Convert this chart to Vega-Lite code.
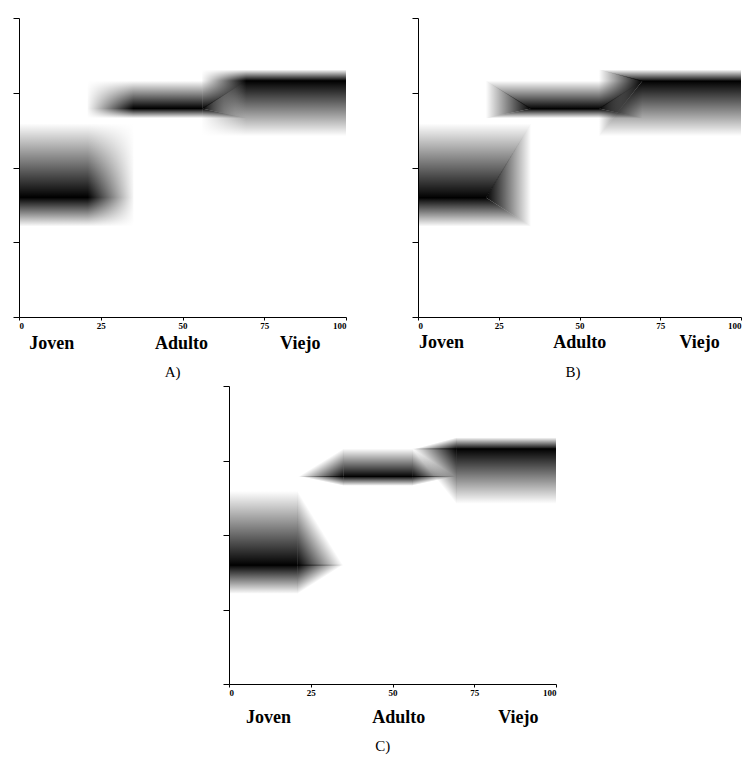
{
  "$schema": "https://vega.github.io/schema/vega-lite/v6.json",
  "background": "white",
  "padding": {"left": 12, "top": 17, "right": 0, "bottom": 0},
  "config": {
    "view": {"stroke": null},
    "axis": {"grid": false, "domainColor": "#000", "tickColor": "#000", "domainWidth": 1, "tickWidth": 1, "labelFont": "Liberation Serif", "labelFontSize": 9, "labelColor": "#000", "labelFontWeight": "bold"}
  },
  "datasets": {
    "rects": [
      {"panel": "A", "kind": "bandV", "x": 56, "x2": 100, "y": 2.42, "y2": 3.31},
      {"panel": "A", "kind": "wL", "x": 55.6, "x2": 69.5, "y": 2.42, "y2": 3.31},
      {"panel": "A", "kind": "bandJ", "x": 0, "x2": 35, "y": 1.21, "y2": 2.59},
      {"panel": "A", "kind": "wR", "x": 21, "x2": 35.4, "y": 1.21, "y2": 2.59},
      {"panel": "A", "kind": "bandA", "x": 21, "x2": 56, "y": 2.66, "y2": 3.16},
      {"panel": "A", "kind": "wL", "x": 20.6, "x2": 35, "y": 2.66, "y2": 3.16}
    ],
    "areas": [
      {"panel": "A", "piece": "A_up", "kind": "down", "x": 56, "y": 2.78, "y2": 3.16},
      {"panel": "A", "piece": "A_up", "kind": "down", "x": 69.5, "y": 3.16, "y2": 3.16},
      {"panel": "A", "piece": "A_lo", "kind": "up", "x": 56, "y": 2.66, "y2": 2.79},
      {"panel": "A", "piece": "A_lo", "kind": "up", "x": 69.5, "y": 2.66, "y2": 2.66},
      {"panel": "A", "piece": "A_hR", "kind": "hRsoft", "x": 56, "y": 2.79, "y2": 2.79},
      {"panel": "A", "piece": "A_hR", "kind": "hRsoft", "x": 69.5, "y": 2.66, "y2": 3.16},

      {"panel": "B", "piece": "J_up", "kind": "down", "x": 0, "y": 1.59, "y2": 2.59},
      {"panel": "B", "piece": "J_up", "kind": "down", "x": 21, "y": 1.59, "y2": 2.59},
      {"panel": "B", "piece": "J_up", "kind": "down", "x": 35, "y": 2.59, "y2": 2.59},
      {"panel": "B", "piece": "J_lo", "kind": "up", "x": 0, "y": 1.21, "y2": 1.6},
      {"panel": "B", "piece": "J_lo", "kind": "up", "x": 21, "y": 1.21, "y2": 1.6},
      {"panel": "B", "piece": "J_lo", "kind": "up", "x": 35, "y": 1.21, "y2": 1.21},
      {"panel": "B", "piece": "J_hR", "kind": "hR", "x": 21, "y": 1.6, "y2": 1.6},
      {"panel": "B", "piece": "J_hR", "kind": "hR", "x": 35, "y": 1.21, "y2": 2.59},
      {"panel": "B", "piece": "A_up", "kind": "down", "x": 21, "y": 3.16, "y2": 3.16},
      {"panel": "B", "piece": "A_up", "kind": "down", "x": 35, "y": 2.78, "y2": 3.16},
      {"panel": "B", "piece": "A_up", "kind": "down", "x": 56, "y": 2.78, "y2": 3.16},
      {"panel": "B", "piece": "A_up", "kind": "down", "x": 69.5, "y": 3.16, "y2": 3.16},
      {"panel": "B", "piece": "A_lo", "kind": "up", "x": 21, "y": 2.66, "y2": 2.66},
      {"panel": "B", "piece": "A_lo", "kind": "up", "x": 35, "y": 2.66, "y2": 2.79},
      {"panel": "B", "piece": "A_lo", "kind": "up", "x": 56, "y": 2.66, "y2": 2.79},
      {"panel": "B", "piece": "A_lo", "kind": "up", "x": 69.5, "y": 2.66, "y2": 2.66},
      {"panel": "B", "piece": "A_hL", "kind": "hL", "x": 21, "y": 2.66, "y2": 3.16},
      {"panel": "B", "piece": "A_hL", "kind": "hL", "x": 35, "y": 2.79, "y2": 2.79},
      {"panel": "B", "piece": "A_hR", "kind": "hR", "x": 56, "y": 2.79, "y2": 2.79},
      {"panel": "B", "piece": "A_hR", "kind": "hR", "x": 69.5, "y": 2.66, "y2": 3.16},
      {"panel": "B", "piece": "V_up", "kind": "down", "x": 56, "y": 3.31, "y2": 3.31},
      {"panel": "B", "piece": "V_up", "kind": "down", "x": 69.5, "y": 3.15, "y2": 3.31},
      {"panel": "B", "piece": "V_up", "kind": "down", "x": 100, "y": 3.15, "y2": 3.31},
      {"panel": "B", "piece": "V_lo", "kind": "up", "x": 56, "y": 2.42, "y2": 2.42},
      {"panel": "B", "piece": "V_lo", "kind": "up", "x": 69.5, "y": 2.42, "y2": 3.16},
      {"panel": "B", "piece": "V_lo", "kind": "up", "x": 100, "y": 2.42, "y2": 3.16},
      {"panel": "B", "piece": "V_hL", "kind": "hL", "x": 56, "y": 2.42, "y2": 3.31},
      {"panel": "B", "piece": "V_hL", "kind": "hL", "x": 69.5, "y": 3.16, "y2": 3.16},

      {"panel": "C", "piece": "J_cu", "kind": "down", "x": 0, "y": 1.59, "y2": 2.59},
      {"panel": "C", "piece": "J_cu", "kind": "down", "x": 21.05, "y": 1.59, "y2": 2.59},
      {"panel": "C", "piece": "J_cl", "kind": "up", "x": 0, "y": 1.21, "y2": 1.6},
      {"panel": "C", "piece": "J_cl", "kind": "up", "x": 21.05, "y": 1.21, "y2": 1.6},
      {"panel": "C", "piece": "J_ru", "kind": "lkRU", "x": 21, "y": 1.59, "y2": 2.59},
      {"panel": "C", "piece": "J_ru", "kind": "lkRU", "x": 35, "y": 1.59, "y2": 1.59},
      {"panel": "C", "piece": "J_rl", "kind": "lkRL", "x": 21, "y": 1.21, "y2": 1.6},
      {"panel": "C", "piece": "J_rl", "kind": "lkRL", "x": 35, "y": 1.6, "y2": 1.6},
      {"panel": "C", "piece": "A_cu", "kind": "down", "x": 34.95, "y": 2.78, "y2": 3.16},
      {"panel": "C", "piece": "A_cu", "kind": "down", "x": 56.05, "y": 2.78, "y2": 3.16},
      {"panel": "C", "piece": "A_cl", "kind": "up", "x": 34.95, "y": 2.66, "y2": 2.79},
      {"panel": "C", "piece": "A_cl", "kind": "up", "x": 56.05, "y": 2.66, "y2": 2.79},
      {"panel": "C", "piece": "A_lu", "kind": "lkLU", "x": 21, "y": 2.78, "y2": 2.78},
      {"panel": "C", "piece": "A_lu", "kind": "lkLU", "x": 35, "y": 2.78, "y2": 3.16},
      {"panel": "C", "piece": "A_ll", "kind": "lkLL", "x": 21, "y": 2.79, "y2": 2.79},
      {"panel": "C", "piece": "A_ll", "kind": "lkLL", "x": 35, "y": 2.66, "y2": 2.79},
      {"panel": "C", "piece": "A_ru", "kind": "lkRU", "x": 56, "y": 2.78, "y2": 3.16},
      {"panel": "C", "piece": "A_ru", "kind": "lkRU", "x": 69.5, "y": 2.78, "y2": 2.78},
      {"panel": "C", "piece": "A_rl", "kind": "lkRL", "x": 56, "y": 2.66, "y2": 2.79},
      {"panel": "C", "piece": "A_rl", "kind": "lkRL", "x": 69.5, "y": 2.79, "y2": 2.79},
      {"panel": "C", "piece": "V_cu", "kind": "down", "x": 69.45, "y": 3.15, "y2": 3.31},
      {"panel": "C", "piece": "V_cu", "kind": "down", "x": 100, "y": 3.15, "y2": 3.31},
      {"panel": "C", "piece": "V_cl", "kind": "up", "x": 69.45, "y": 2.42, "y2": 3.16},
      {"panel": "C", "piece": "V_cl", "kind": "up", "x": 100, "y": 2.42, "y2": 3.16},
      {"panel": "C", "piece": "V_lu", "kind": "lkLU", "x": 56, "y": 3.15, "y2": 3.15},
      {"panel": "C", "piece": "V_lu", "kind": "lkLU", "x": 69.5, "y": 3.15, "y2": 3.31},
      {"panel": "C", "piece": "V_ll", "kind": "lkLL", "x": 56, "y": 3.16, "y2": 3.16},
      {"panel": "C", "piece": "V_ll", "kind": "lkLL", "x": 69.5, "y": 2.42, "y2": 3.16}
    ],
    "labels": [
      {"panel": "A", "kind": "set", "x": 10, "y": -0.43, "t": "Joven"},
      {"panel": "A", "kind": "set", "x": 49.7, "y": -0.43, "t": "Adulto"},
      {"panel": "A", "kind": "set", "x": 86, "y": -0.43, "t": "Viejo"},
      {"panel": "A", "kind": "cap", "x": 47, "y": -0.8, "t": "A)"},
      {"panel": "B", "kind": "set", "x": 7.3, "y": -0.42, "t": "Joven"},
      {"panel": "B", "kind": "set", "x": 50.1, "y": -0.42, "t": "Adulto"},
      {"panel": "B", "kind": "set", "x": 87.2, "y": -0.42, "t": "Viejo"},
      {"panel": "B", "kind": "cap", "x": 48, "y": -0.8, "t": "B)"},
      {"panel": "C", "kind": "set", "x": 12.1, "y": -0.525, "t": "Joven"},
      {"panel": "C", "kind": "set", "x": 51.9, "y": -0.525, "t": "Adulto"},
      {"panel": "C", "kind": "set", "x": 88.5, "y": -0.525, "t": "Viejo"},
      {"panel": "C", "kind": "cap", "x": 47, "y": -0.9, "t": "C)"}
    ]
  },
  "spacing": 5,
  "vconcat": [
    {
      "spacing": 72,
      "bounds": "flush",
      "hconcat": [
        {
          "width": 327,
          "height": 299,
          "layer": [
            {
              "data": {"name": "rects"},
              "transform": [{"filter": "datum.panel === 'A'"}],
              "mark": {"type": "rect", "opacity": 1, "strokeWidth": 0},
              "encoding": {
                "x": {"field": "x", "type": "quantitative", "scale": {"domain": [0, 100], "nice": false}, "axis": {"values": [0, 25, 50, 75, 100], "tickSize": 3, "labelPadding": 1, "title": null}},
                "y": {"field": "y", "type": "quantitative", "scale": {"domain": [0, 4], "nice": false, "zero": false}, "axis": {"values": [0, 1, 2, 3, 4], "labels": false, "tickSize": 6, "title": null}},
                "x2": {"field": "x2"},
                "y2": {"field": "y2"},
                "fill": {
                  "condition": [
                    {"test": "datum.kind === 'bandV'", "value": {"gradient": "linear", "x1": 0, "y1": 0, "x2": 0, "y2": 1, "stops": [{"offset": 0, "color": "rgba(0,0,0,0)"}, {"offset": 0.169, "color": "#000"}, {"offset": 1, "color": "rgba(0,0,0,0)"}]}},
                    {"test": "datum.kind === 'bandJ'", "value": {"gradient": "linear", "x1": 0, "y1": 0, "x2": 0, "y2": 1, "stops": [{"offset": 0, "color": "rgba(0,0,0,0)"}, {"offset": 0.717, "color": "#000"}, {"offset": 1, "color": "rgba(0,0,0,0)"}]}},
                    {"test": "datum.kind === 'bandA'", "value": {"gradient": "linear", "x1": 0, "y1": 0, "x2": 0, "y2": 1, "stops": [{"offset": 0, "color": "rgba(0,0,0,0)"}, {"offset": 0.74, "color": "#000"}, {"offset": 1, "color": "rgba(0,0,0,0)"}]}},
                    {"test": "datum.kind === 'wL'", "value": {"gradient": "linear", "x1": 0, "y1": 0, "x2": 1, "y2": 0, "stops": [{"offset": 0, "color": "#ffffff"}, {"offset": 1, "color": "rgba(255,255,255,0)"}]}}
                  ],
                  "value": {"gradient": "linear", "x1": 0, "y1": 0, "x2": 1, "y2": 0, "stops": [{"offset": 0, "color": "rgba(255,255,255,0)"}, {"offset": 1, "color": "#ffffff"}]}
                }
              }
            },
            {
              "data": {"name": "areas"},
              "transform": [{"filter": "datum.panel === 'A'"}],
              "mark": {"type": "area", "opacity": 1, "strokeWidth": 0},
              "encoding": {
                "x": {"field": "x", "type": "quantitative"},
                "y": {"field": "y", "type": "quantitative"},
                "y2": {"field": "y2"},
                "detail": {"field": "piece"},
                "fill": {
                  "condition": [
                    {"test": "datum.kind === 'down'", "value": {"gradient": "linear", "x1": 0, "y1": 0, "x2": 0, "y2": 1, "stops": [{"offset": 0, "color": "rgba(0,0,0,0)"}, {"offset": 1, "color": "#000"}]}},
                    {"test": "datum.kind === 'up'", "value": {"gradient": "linear", "x1": 0, "y1": 0, "x2": 0, "y2": 1, "stops": [{"offset": 0, "color": "#000"}, {"offset": 1, "color": "rgba(0,0,0,0)"}]}}
                  ],
                  "value": {"gradient": "linear", "x1": 0, "y1": 0, "x2": 1, "y2": 0, "stops": [{"offset": 0, "color": "#000"}, {"offset": 0.25, "color": "rgba(0,0,0,0.66)"}, {"offset": 0.5, "color": "rgba(0,0,0,0.38)"}, {"offset": 0.75, "color": "rgba(0,0,0,0.16)"}, {"offset": 1, "color": "rgba(0,0,0,0)"}]}
                }
              }
            },
            {
              "data": {"name": "labels"},
              "transform": [{"filter": "datum.panel === 'A' && datum.kind === 'set'"}],
              "mark": {"type": "text", "font": "Liberation Serif", "fontSize": 18, "fontWeight": "bold", "align": "center", "baseline": "alphabetic", "color": "#000"},
              "encoding": {"x": {"field": "x", "type": "quantitative"}, "y": {"field": "y", "type": "quantitative"}, "text": {"field": "t"}}
            },
            {
              "data": {"name": "labels"},
              "transform": [{"filter": "datum.panel === 'A' && datum.kind === 'cap'"}],
              "mark": {"type": "text", "font": "Liberation Serif", "fontSize": 15, "align": "center", "baseline": "alphabetic", "color": "#000"},
              "encoding": {"x": {"field": "x", "type": "quantitative"}, "y": {"field": "y", "type": "quantitative"}, "text": {"field": "t"}}
            }
          ]
        },
        {
          "width": 323,
          "height": 299,
          "layer": [
            {
              "data": {"name": "areas"},
              "transform": [{"filter": "datum.panel === 'B'"}],
              "mark": {"type": "area", "opacity": 1, "strokeWidth": 0},
              "encoding": {
                "x": {"field": "x", "type": "quantitative", "scale": {"domain": [0, 100], "nice": false}, "axis": {"values": [0, 25, 50, 75, 100], "tickSize": 3, "labelPadding": 1, "title": null}},
                "y": {"field": "y", "type": "quantitative", "scale": {"domain": [0, 4], "nice": false, "zero": false}, "axis": {"values": [0, 1, 2, 3, 4], "labels": false, "tickSize": 6, "title": null}},
                "y2": {"field": "y2"},
                "detail": {"field": "piece"},
                "fill": {
                  "condition": [
                    {"test": "datum.kind === 'down'", "value": {"gradient": "linear", "x1": 0, "y1": 0, "x2": 0, "y2": 1, "stops": [{"offset": 0, "color": "rgba(0,0,0,0)"}, {"offset": 1, "color": "#000"}]}},
                    {"test": "datum.kind === 'up'", "value": {"gradient": "linear", "x1": 0, "y1": 0, "x2": 0, "y2": 1, "stops": [{"offset": 0, "color": "#000"}, {"offset": 1, "color": "rgba(0,0,0,0)"}]}},
                    {"test": "datum.kind === 'hL'", "value": {"gradient": "linear", "x1": 0, "y1": 0, "x2": 1, "y2": 0, "stops": [{"offset": 0, "color": "rgba(0,0,0,0)"}, {"offset": 1, "color": "#000"}]}}
                  ],
                  "value": {"gradient": "linear", "x1": 0, "y1": 0, "x2": 1, "y2": 0, "stops": [{"offset": 0, "color": "#000"}, {"offset": 1, "color": "rgba(0,0,0,0)"}]}
                }
              }
            },
            {
              "data": {"name": "labels"},
              "transform": [{"filter": "datum.panel === 'B' && datum.kind === 'set'"}],
              "mark": {"type": "text", "font": "Liberation Serif", "fontSize": 18, "fontWeight": "bold", "align": "center", "baseline": "alphabetic", "color": "#000"},
              "encoding": {"x": {"field": "x", "type": "quantitative"}, "y": {"field": "y", "type": "quantitative"}, "text": {"field": "t"}}
            },
            {
              "data": {"name": "labels"},
              "transform": [{"filter": "datum.panel === 'B' && datum.kind === 'cap'"}],
              "mark": {"type": "text", "font": "Liberation Serif", "fontSize": 15, "align": "center", "baseline": "alphabetic", "color": "#000"},
              "encoding": {"x": {"field": "x", "type": "quantitative"}, "y": {"field": "y", "type": "quantitative"}, "text": {"field": "t"}}
            }
          ]
        }
      ]
    },
    {
      "spacing": 10,
      "bounds": "flush",
      "hconcat": [
        {"width": 200, "height": 298, "data": {"values": []}, "mark": "point"},
        {
          "width": 327,
          "height": 298,
          "layer": [
            {
              "data": {"name": "areas"},
              "transform": [{"filter": "datum.panel === 'C'"}],
              "mark": {"type": "area", "opacity": 1, "strokeWidth": 0},
              "encoding": {
                "x": {"field": "x", "type": "quantitative", "scale": {"domain": [0, 100], "nice": false}, "axis": {"values": [0, 25, 50, 75, 100], "tickSize": 3, "labelPadding": 1, "title": null}},
                "y": {"field": "y", "type": "quantitative", "scale": {"domain": [0, 4], "nice": false, "zero": false}, "axis": {"values": [0, 1, 2, 3, 4], "labels": false, "tickSize": 6, "title": null}},
                "y2": {"field": "y2"},
                "detail": {"field": "piece"},
                "fill": {
                  "condition": [
                    {"test": "datum.kind === 'down'", "value": {"gradient": "linear", "x1": 0, "y1": 0, "x2": 0, "y2": 1, "stops": [{"offset": 0, "color": "rgba(0,0,0,0)"}, {"offset": 1, "color": "#000"}]}},
                    {"test": "datum.kind === 'up'", "value": {"gradient": "linear", "x1": 0, "y1": 0, "x2": 0, "y2": 1, "stops": [{"offset": 0, "color": "#000"}, {"offset": 1, "color": "rgba(0,0,0,0)"}]}},
                    {"test": "datum.kind === 'lkRU'", "value": {"gradient": "linear", "x1": 0.5, "y1": 0.5, "x2": 0, "y2": 1, "stops": [{"offset": 0, "color": "rgba(0,0,0,0)"}, {"offset": 1, "color": "#000"}]}},
                    {"test": "datum.kind === 'lkRL'", "value": {"gradient": "linear", "x1": 0.5, "y1": 0.5, "x2": 0, "y2": 0, "stops": [{"offset": 0, "color": "rgba(0,0,0,0)"}, {"offset": 1, "color": "#000"}]}},
                    {"test": "datum.kind === 'lkLU'", "value": {"gradient": "linear", "x1": 0.5, "y1": 0.5, "x2": 1, "y2": 1, "stops": [{"offset": 0, "color": "rgba(0,0,0,0)"}, {"offset": 1, "color": "#000"}]}}
                  ],
                  "value": {"gradient": "linear", "x1": 0.5, "y1": 0.5, "x2": 1, "y2": 0, "stops": [{"offset": 0, "color": "rgba(0,0,0,0)"}, {"offset": 1, "color": "#000"}]}
                }
              }
            },
            {
              "data": {"name": "labels"},
              "transform": [{"filter": "datum.panel === 'C' && datum.kind === 'set'"}],
              "mark": {"type": "text", "font": "Liberation Serif", "fontSize": 18, "fontWeight": "bold", "align": "center", "baseline": "alphabetic", "color": "#000"},
              "encoding": {"x": {"field": "x", "type": "quantitative"}, "y": {"field": "y", "type": "quantitative"}, "text": {"field": "t"}}
            },
            {
              "data": {"name": "labels"},
              "transform": [{"filter": "datum.panel === 'C' && datum.kind === 'cap'"}],
              "mark": {"type": "text", "font": "Liberation Serif", "fontSize": 15, "align": "center", "baseline": "alphabetic", "color": "#000"},
              "encoding": {"x": {"field": "x", "type": "quantitative"}, "y": {"field": "y", "type": "quantitative"}, "text": {"field": "t"}}
            }
          ]
        }
      ]
    }
  ]
}
